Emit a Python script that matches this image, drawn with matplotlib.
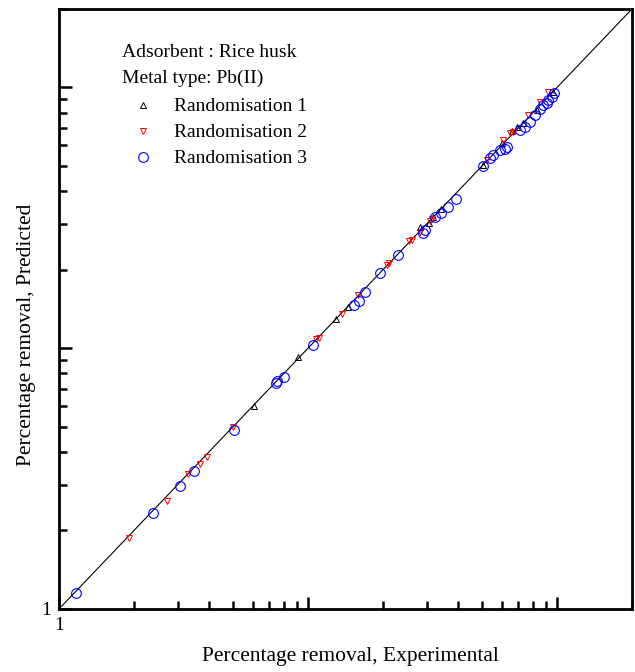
import numpy as np
import matplotlib.pyplot as plt
from matplotlib.ticker import LogLocator, FuncFormatter

plt.rcParams['font.family'] = ['Liberation Serif', 'DejaVu Serif']

# Randomisation 1 (black up-triangles)
x1 = [6.07, 9.12, 12.96, 14.5, 28.2, 30.6, 31.8, 34.2, 50.4, 60.1, 65.9, 69.1, 73.0, 83.1, 96.4]
y1 = [6.0, 9.25, 12.94, 14.4, 29.2, 30.2, 31.8, 34.2, 50.4, 61.2, 68.0, 70.5, 73.0, 81.9, 96.0]

# Randomisation 2 (red down-triangles)
x2 = [1.91, 2.72, 3.30, 3.68, 3.93, 5.0, 10.77, 11.07, 13.7, 15.9, 20.8, 21.1, 25.4, 26.2,
      28.2, 30.9, 31.5, 52.4, 60.7, 64.7, 66.6, 76.5, 85.4, 92.0]
y2 = [1.87, 2.60, 3.29, 3.60, 3.83, 4.99, 10.85, 10.95, 13.5, 16.0, 20.8, 21.2, 25.8, 26.0,
      27.9, 30.7, 31.3, 52.7, 62.9, 66.8, 67.4, 78.4, 87.9, 96.0]

# Randomisation 3 (blue circles)
x3 = [1.17, 2.39, 3.06, 3.48, 5.04, 7.44, 7.51, 8.01, 10.47, 15.3, 16.0, 16.9, 19.5, 22.98,
      29.5, 28.96, 32.4, 34.2, 36.5, 39.3, 50.4, 53.8, 55.3, 59.0, 63.0, 61.8, 71.0, 74.4,
      77.9, 81.6, 85.4, 87.9, 91.2, 92.0, 95.5, 97.3]
y3 = [1.15, 2.33, 2.96, 3.38, 4.86, 7.36, 7.49, 7.76, 10.29, 14.64, 15.17, 16.43, 19.4, 22.8,
      28.4, 27.7, 31.8, 33.0, 34.8, 37.3, 49.96, 53.6, 55.1, 57.5, 59.1, 58.0, 68.7, 70.5,
      73.7, 78.4, 82.6, 85.6, 87.1, 89.5, 91.9, 95.2]

lim = (1, 200)

fig = plt.figure(figsize=(6.35, 6.72), dpi=100)
ax = fig.add_axes([0.0929, 0.0938, 0.9024, 0.8929])
ax.set_xscale('log')
ax.set_yscale('log')
ax.set(xlim=lim, ylim=lim)

ax.plot(lim, lim, color='black', lw=0.8, zorder=1)
ax.plot(x1, y1, ls='none', marker='^', ms=4.5, mfc='none', mec='black', mew=0.7,
        label='Randomisation 1')
ax.plot(x2, y2, ls='none', marker='v', ms=5, mfc='none', mec='red', mew=0.7,
        label='Randomisation 2')
ax.plot(x3, y3, ls='none', marker='o', ms=7, mfc='none', mec='blue', mew=0.8,
        label='Randomisation 3')

for s in ax.spines.values():
    s.set_linewidth(2)

for axis in (ax.xaxis, ax.yaxis):
    axis.set_major_locator(LogLocator(base=10))
    axis.set_minor_locator(LogLocator(base=10, subs=np.arange(2, 10)))
    axis.set_major_formatter(FuncFormatter(lambda v, p: '1' if abs(v - 1) < 1e-9 else ''))
    axis.set_minor_formatter(FuncFormatter(lambda v, p: ''))

ax.tick_params(which='major', direction='in', length=9, width=1.8, labelsize=14, pad=6)
ax.tick_params(which='minor', direction='in', length=6, width=1.8)

ax.set_xlabel('Percentage removal, Experimental', fontsize=15.5)
ax.set_ylabel('Percentage removal, Predicted', fontsize=15.5)
ax.xaxis.set_label_coords(0.508, -0.063)
ax.yaxis.set_label_coords(-0.040, 0.457)

ax.text(0.110, 0.928, 'Adsorbent : Rice husk', transform=ax.transAxes, fontsize=14, va='center')
ax.text(0.110, 0.885, 'Metal type: Pb(II)', transform=ax.transAxes, fontsize=14, va='center')
ax.legend(loc='upper left', bbox_to_anchor=(0.105, 0.868), frameon=False, fontsize=14,
          handletextpad=0.8, labelspacing=0.43, borderpad=0, handlelength=1.5)

fig.savefig('out.png', dpi=100)
